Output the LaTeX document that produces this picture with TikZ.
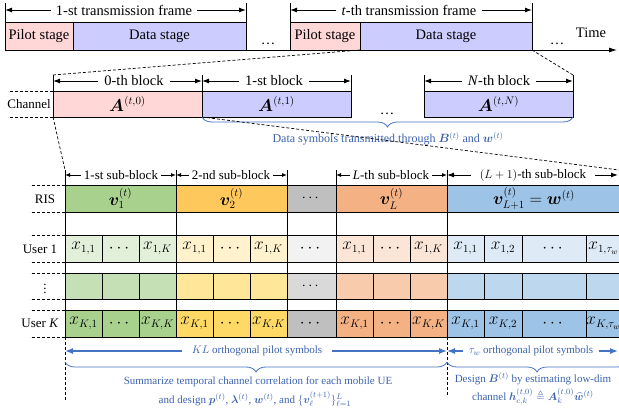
\documentclass[tikz,border=0pt]{standalone}
\usepackage{fontspec}
\setmainfont{Liberation Serif}
\usepackage{amsmath,amssymb,bm}
\usetikzlibrary{arrows.meta,decorations.pathreplacing}
\definecolor{pk}{HTML}{FFD7D7}
\definecolor{lv}{HTML}{CCCCFF}
\definecolor{gR}{HTML}{A9D18E}
\definecolor{yR}{HTML}{FFC85C}
\definecolor{kR}{HTML}{BFBFBF}
\definecolor{oR}{HTML}{F4B183}
\definecolor{bR}{HTML}{9DC3E6}
\definecolor{gA}{HTML}{E2F0D9}
\definecolor{yA}{HTML}{FFF2CC}
\definecolor{kA}{HTML}{F2F2F2}
\definecolor{oA}{HTML}{FBE5D6}
\definecolor{bA}{HTML}{DEEBF7}
\definecolor{gB}{HTML}{C5E0B4}
\definecolor{yB}{HTML}{FFE699}
\definecolor{kB}{HTML}{D9D9D9}
\definecolor{oB}{HTML}{F8CBAD}
\definecolor{bB}{HTML}{BDD7EE}
\definecolor{gC}{HTML}{A9D18E}
\definecolor{yC}{HTML}{FFD966}
\definecolor{kC}{HTML}{BFBFBF}
\definecolor{oC}{HTML}{F4B183}
\definecolor{bC}{HTML}{9DC3E6}
\definecolor{bl}{HTML}{4472C4}
\definecolor{bt}{HTML}{3C62AE}
\begin{document}
\begin{tikzpicture}[x=1pt,y=-1pt,
  cell/.style={draw=black,line width=0.8pt,inner sep=0pt,outer sep=0pt,anchor=north west},
  big/.style={font=\fontsize{14.5}{17}\selectfont},
  mth/.style={font=\fontsize{16}{18}\selectfont},
  mid/.style={font=\fontsize{13}{15}\selectfont},
  sml/.style={font=\fontsize{11}{13}\selectfont},
  dim/.style={line width=1pt,-{Latex[length=7pt,width=5pt]}},
  sdim/.style={line width=0.9pt,-{Latex[length=5pt,width=4pt]}},
  bdim/.style={line width=1.3pt,draw=bl,-{Latex[length=8pt,width=6pt]}},
  dsh/.style={dash pattern=on 3pt off 2pt,line width=0.7pt},
  brc/.style={decorate,decoration={brace,mirror,amplitude=10pt},draw=bl,line width=0.8pt},
  btxt/.style={text=bt,inner sep=1pt},
  vl/.style={line width=0.8pt}
]
\useasboundingbox (0,0) rectangle (619,413);
\clip (0,0) rectangle (619,413);

% ---------- Row 1: transmission frames ----------
\node[cell,fill=pk,minimum width=68pt,minimum height=28pt,big] (p1) at (5,22) {Pilot stage};
\node[cell,fill=lv,minimum width=173pt,minimum height=28pt,big] (d1) at (73,22) {Data stage};
\node[cell,fill=pk,minimum width=70pt,minimum height=28pt,big] (p2) at (290,22) {Pilot stage};
\node[cell,fill=lv,minimum width=172pt,minimum height=28pt,big] (d2) at (360,22) {Data stage};
\draw[vl] (p1.north west) -- ++(0,-19);
\draw[vl] (d1.north east) -- ++(0,-19);
\draw[vl] (p2.north west) -- ++(0,-19);
\draw[vl] (d2.north east) -- ++(0,-19);
\node[big,inner xsep=5pt] (f1) at (124,10) {1-st transmission frame};
\draw[dim] (f1.west) -- (f1.west -| p1.west);
\draw[dim] (f1.east) -- (f1.east -| d1.east);
\node[big,inner xsep=5pt] (f2) at (409,10) {\textit{t}-th transmission frame};
\draw[dim] (f2.west) -- (f2.west -| p2.west);
\draw[dim] (f2.east) -- (f2.east -| d2.east);
\draw[vl] (d1.south east) -- (p2.south west);
\coordinate (tend) at (617,50);
\draw[line width=0.8pt,-{Latex[length=8pt,width=5pt]}] (d2.south east) -- (tend);
\node[big] (tm) at (591,33) {Time};
\node[big,anchor=base] (e1) at (268,44) {\dots};
\node[big,anchor=base] (e2) at (557,44) {\dots};

% ---------- Row 2: channel blocks ----------
\node[cell,fill=pk,minimum width=149pt,minimum height=26pt,mth] (b0) at (53,91) {$\bm{A}^{(t,0)}$};
\node[cell,fill=lv,minimum width=149pt,minimum height=26pt,mth] (b1) at (202,91) {$\bm{A}^{(t,1)}$};
\node[cell,fill=lv,minimum width=149pt,minimum height=26pt,mth] (bN) at (424,91) {$\bm{A}^{(t,N)}$};
\draw[vl] (b0.north west) -- ++(0,-16) coordinate (k0);
\draw[vl] (b0.north east) -- ++(0,-16);
\draw[vl] (b1.north east) -- ++(0,-16);
\draw[vl] (bN.north west) -- ++(0,-16);
\draw[vl] (bN.north east) -- ++(0,-16) coordinate (kN);
\node[big,inner xsep=6pt] (l0) at (134,81) {0-th block};
\draw[dim] (l0.west) -- (l0.west -| b0.west);
\draw[dim] (l0.east) -- (l0.east -| b0.east);
\node[big,inner xsep=6pt] (l1) at (274,81) {1-st block};
\draw[dim] (l1.west) -- (l1.west -| b1.west);
\draw[dim] (l1.east) -- (l1.east -| b1.east);
\node[big,inner xsep=6pt] (lN) at (499,81) {\textit{N}-th block};
\draw[dim] (lN.west) -- (lN.west -| bN.west);
\draw[dim] (lN.east) -- (lN.east -| bN.east);
\draw[dsh] (b0.north west) -- ++(-45,0);
\draw[dsh] (b0.south west) -- ++(-45,0);
\node[mid] (ch) at (29,104) {Channel};
\node[big,anchor=base] (e3) at (387,114) {\dots};
\draw[dsh] (k0) -- (d2.south west);
\draw[dsh] (d2.south east) -- (kN);
\draw[brc] (b1.south west) -- (bN.south east);
\node[btxt,font=\fontsize{12}{14}\selectfont] (ds) at (388,139) {Data symbols transmitted through $\bm{B}^{(t)}$ and $\bm{w}^{(t)}$};

% ---------- Lower section ----------
\coordinate (q0) at (65,170);
\coordinate (q1) at (176,170);
\coordinate (q2) at (287,170);
\coordinate (q3) at (336,170);
\coordinate (q4) at (447,170);
\coordinate (q5) at (619,170);
\draw[dsh] (b0.south west) -- (q0);
\draw[dsh] (b1.south west) -- (q5);
\foreach \q in {q0,q1,q2,q3,q4} \draw[vl] (\q) -- ++(0,167);

\node[cell,fill=gR,minimum width=111pt,minimum height=27pt,mth] (r1) at (65,185) {$\bm{v}_1^{(t)}$};
\node[cell,fill=yR,minimum width=111pt,minimum height=27pt,mth] (r2) at (176,185) {$\bm{v}_2^{(t)}$};
\node[cell,fill=kR,minimum width=49pt,minimum height=27pt,big] (r3) at (287,185) {$\cdots$};
\node[cell,fill=oR,minimum width=111pt,minimum height=27pt,mth] (r4) at (336,185) {$\bm{v}_L^{(t)}$};
\node[cell,fill=bR,minimum width=174pt,minimum height=27pt,mth] (r5) at (447,185) {$\bm{v}_{L+1}^{(t)} = \bm{w}^{(t)}$};

\node[mid,inner xsep=3pt] (sb1) at (121,175) {1-st sub-block};
\draw[sdim] (sb1.west) -- (sb1.west -| q0);
\draw[sdim] (sb1.east) -- (sb1.east -| q1);
\node[mid,inner xsep=3pt] (sb2) at (231,175) {2-nd sub-block};
\draw[sdim] (sb2.west) -- (sb2.west -| q1);
\draw[sdim] (sb2.east) -- (sb2.east -| q2);
\node[mid,inner xsep=3pt] (sb3) at (391,175) {\textit{L}-th sub-block};
\draw[sdim] (sb3.west) -- (sb3.west -| q3);
\draw[sdim] (sb3.east) -- (sb3.east -| q4);
\coordinate (sbe) at (618,175);
\node[mid,inner xsep=9pt] (sb4) at (533,175) {$(L+1)$-th sub-block};
\draw[dim] (sb4.west) -- (sb4.west -| q4);
\draw[dim] (sb4.east) -- (sbe);

\foreach \n/\x/\w/\c/\t in {1/65/37/gA/{$x_{1,1}$},2/102/37/gA/{$\cdots$},3/139/37/gA/{$x_{1,K}$},4/176/37/yA/{$x_{1,1}$},5/213/37/yA/{$\cdots$},6/250/37/yA/{$x_{1,K}$},7/287/49/kA/{$\cdots$},8/336/37/oA/{$x_{1,1}$},9/373/37/oA/{$\cdots$},10/410/37/oA/{$x_{1,K}$},11/447/37/bA/{$x_{1,1}$},12/484/38/bA/{$x_{1,2}$},13/522/64/bA/{$\cdots$},14/586/35/bA/{$x_{1,\tau_w}$}}
  \node[cell,fill=\c,minimum width=\w*1pt,minimum height=27pt,mth] (a\n) at (\x,235) {\t};
\foreach \n/\x/\w/\c/\t in {1/65/37/gB/{},2/102/37/gB/{},3/139/37/gB/{},4/176/37/yB/{},5/213/37/yB/{},6/250/37/yB/{},7/287/49/kB/{$\cdots$},8/336/37/oB/{},9/373/37/oB/{},10/410/37/oB/{},11/447/37/bB/{},12/484/38/bB/{},13/522/64/bB/{},14/586/35/bB/{}}
  \node[cell,fill=\c,minimum width=\w*1pt,minimum height=26pt,big] (b\n) at (\x,273) {\t};
\foreach \n/\x/\w/\c/\t in {1/65/37/gC/{$x_{K,1}$},2/102/37/gC/{$\cdots$},3/139/37/gC/{$x_{K,K}$},4/176/37/yC/{$x_{K,1}$},5/213/37/yC/{$\cdots$},6/250/37/yC/{$x_{K,K}$},7/287/49/kC/{$\cdots$},8/336/37/oC/{$x_{K,1}$},9/373/37/oC/{$\cdots$},10/410/37/oC/{$x_{K,K}$},11/447/37/bC/{$x_{K,1}$},12/484/38/bC/{$x_{K,2}$},13/522/64/bC/{$\cdots$},14/586/35/bC/{$x_{K,\tau_w}$}}
  \node[cell,fill=\c,minimum width=\w*1pt,minimum height=27pt,mth] (c\n) at (\x,310) {\t};

% left labels and stubs
\node[mid] (lr) at (45,199) {RIS};
\node[mid] (lu1) at (40,249) {User 1};
\node[mid] (lud) at (45,286) {$\vdots$};
\node[mid] (luk) at (40,323) {User \textit{K}};
\foreach \m in {r1,a1,b1,c1} {
  \draw[dsh] (\m.north west) -- ++(-35,0);
  \draw[dsh] (\m.south west) -- ++(-35,0);
}

% ---------- Bottom annotations ----------
\node[btxt,sml,inner xsep=10pt] (kl) at (257,351) {$KL$ orthogonal pilot symbols};
\draw[bdim] (kl.west) -- (kl.west -| q0);
\draw[bdim] (kl.east) -- (kl.east -| q4);
\coordinate (twe) at (618,351);
\node[btxt,sml,inner xsep=6pt] (tw) at (531,351) {$\tau_w$ orthogonal pilot symbols};
\draw[bdim] (tw.west) -- (tw.west -| q4);
\draw[bdim] (tw.east) -- (twe);
\draw[dsh] (c1.south west) -- ++(0,63);
\draw[dsh] (c11.south west) -- ++(0,60);
\coordinate (br0) at (65,362);
\coordinate (br1) at (447,362);
\coordinate (br2) at (627,362);
\draw[brc] (br0) -- (br1);
\draw[brc] (br1) -- (br2);
\node[btxt,sml,inner sep=0pt] (sum1) at (258,382) {Summarize temporal channel correlation for each mobile UE};
\node[btxt,sml,inner sep=0pt] (sum2) at (255,399) {and design $\bm{p}^{(t)}$, $\bm{\lambda}^{(t)}$, $\bm{w}^{(t)}$, and $\{\bm{v}_\ell^{(t+1)}\}_{\ell=1}^{L}$};
\node[btxt,sml,inner sep=0pt] (des1) at (533,379) {Design $\bm{B}^{(t)}$ by estimating low-dim};
\node[btxt,sml,inner sep=0pt] (des2) at (533,397) {channel $\bm{h}_{c,k}^{(t,0)} \triangleq \bm{A}_k^{(t,0)}\widehat{\bm{w}}^{(t)}$};
\end{tikzpicture}
\end{document}
